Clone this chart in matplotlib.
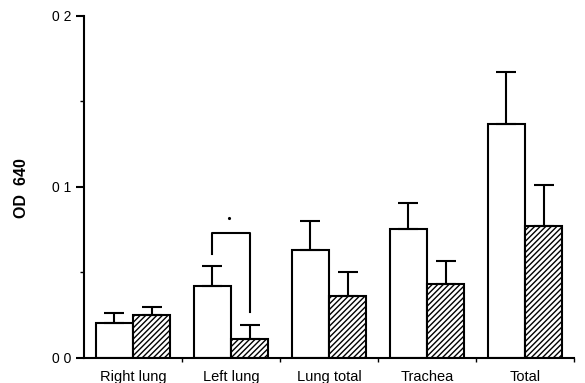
import matplotlib

matplotlib.use("Agg")
import matplotlib.pyplot as plt
import numpy as np

plt.rcParams["font.family"] = ["Liberation Sans", "DejaVu Sans"]
plt.rcParams["hatch.linewidth"] = 1.0

categories = ["Right lung", "Left lung", "Lung total", "Trachea", "Total"]
open_vals = [0.0205, 0.042, 0.063, 0.0754, 0.137]
open_err = [0.006, 0.012, 0.017, 0.015, 0.030]
hatched_vals = [0.025, 0.011, 0.036, 0.043, 0.077]
hatched_err = [0.005, 0.008, 0.014, 0.014, 0.024]
ytick_vals = [0.0, 0.1, 0.2]
ytick_labels = ["0 0", "0 1", "0 2"]

x = np.arange(len(categories))
w = 0.38

fig = plt.figure(figsize=(5.85, 3.83), dpi=100)
ax = fig.add_axes([0.1436, 0.0653, 0.8376, 0.893])

ax.bar(x - w / 2, open_vals, w, color="white", edgecolor="black", linewidth=1.5,
       yerr=[np.zeros(len(x)), open_err], capsize=7,
       error_kw=dict(elinewidth=1.5, capthick=1.5, ecolor="black"), zorder=2)
ax.bar(x + w / 2, hatched_vals, w, color="white", edgecolor="black", linewidth=1.5,
       hatch="//////", yerr=[np.zeros(len(x)), hatched_err], capsize=7,
       error_kw=dict(elinewidth=1.5, capthick=1.5, ecolor="black"), zorder=2)

# significance bracket on left lung
bx0, bx1 = 1 - w / 2, 1 + w / 2
ax.plot([bx0, bx0, bx1, bx1], [0.061, 0.073, 0.073, 0.027], color="black", lw=1.5)
ax.plot([1 - 0.02], [0.082], marker=".", color="black", markersize=2.5)

ax.set_xlim(-0.5, 4.4)
ax.set_ylim(0, 0.2)
ax.spines["top"].set_visible(False)
ax.spines["right"].set_visible(False)
ax.spines["left"].set_linewidth(1.5)
ax.spines["bottom"].set_linewidth(1.5)

ax.set_yticks(ytick_vals)
ax.set_yticklabels(ytick_labels, fontsize=10)
ax.set_yticks([0.05, 0.15], minor=True)
ax.tick_params(axis="y", which="major", length=6, width=1.5, direction="out", pad=3)
ax.tick_params(axis="y", which="minor", length=3, width=1.0, direction="out")

ax.set_xticks(x + 0.5)
ax.set_xticklabels([])
ax.tick_params(axis="x", which="major", length=3, width=1.0, direction="out")
for xi, lab in zip(x, categories):
    ax.text(xi, -0.0137, lab, ha="center", va="baseline", fontsize=10.5,
            transform=ax.transData)

fig.text(22 / 585, 1 - 188 / 383, "OD  640", rotation=90, ha="center", va="center",
         fontsize=11.5, fontweight="bold")

fig.savefig("out.png", dpi=100)
